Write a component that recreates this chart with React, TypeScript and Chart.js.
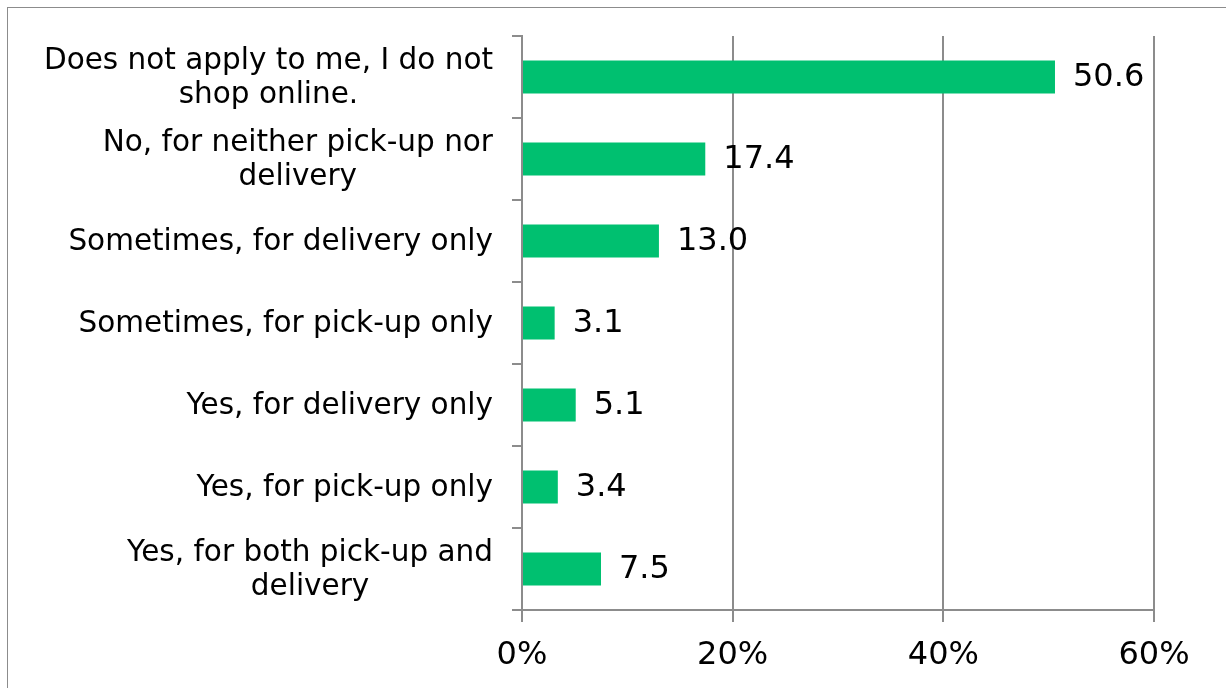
import React, { useEffect, useRef } from "react";
import { Chart, registerables } from "chart.js";

Chart.register(...registerables);

const categories: (string | string[])[] = [
  ["Does not apply to me, I do not", "shop online."],
  ["No, for neither pick-up nor", "delivery"],
  "Sometimes, for delivery only",
  "Sometimes, for pick-up only",
  "Yes, for delivery only",
  "Yes, for pick-up only",
  ["Yes, for both pick-up and", "delivery"],
];
const values = [50.6, 17.4, 13.0, 3.1, 5.1, 3.4, 7.5];
const xTicks = [0, 20, 40, 60];

const FONT = "'DejaVu Sans', Verdana, sans-serif";
const GRID = "#8c8c8c";
const GREEN = "#00c070";

const labelPlugin = {
  id: "customLabels",
  afterDraw(chart: any) {
    const { ctx, chartArea } = chart;
    const yScale = chart.scales.y;
    const xScale = chart.scales.x;
    ctx.save();
    ctx.fillStyle = "#000";
    // category labels
    ctx.font = `29.5px ${FONT}`;
    ctx.textBaseline = "middle";
    ctx.textAlign = "center";
    const lineH = 34;
    categories.forEach((lab, i) => {
      const lines = Array.isArray(lab) ? lab : [lab];
      const w = Math.max(...lines.map((l) => ctx.measureText(l).width));
      const right = chartArea.left - 29;
      const cx = right - w / 2;
      const cy = yScale.getPixelForValue(i) + 1;
      const start = cy - ((lines.length - 1) * lineH) / 2;
      lines.forEach((l, j) => ctx.fillText(l, cx, start + j * lineH));
    });
    // data labels
    ctx.font = `32px ${FONT}`;
    ctx.textAlign = "left";
    values.forEach((v, i) => {
      const x = xScale.getPixelForValue(v) + 18;
      const y = yScale.getPixelForValue(i);
      ctx.fillText(v.toFixed(1), x, y + 1);
    });
    ctx.restore();
  },
};

export default function App() {
  const ref = useRef<HTMLCanvasElement>(null);
  useEffect(() => {
    if (!ref.current) return;
    const chart = new Chart(ref.current, {
      type: "bar",
      data: {
        labels: categories.map((c) => (Array.isArray(c) ? c.join(" ") : c)),
        datasets: [
          {
            data: values,
            backgroundColor: GREEN,
            borderWidth: 0,
            categoryPercentage: 1,
            barPercentage: 0.4,
          },
        ],
      },
      options: {
        indexAxis: "y",
        animation: false,
        responsive: false,
        maintainAspectRatio: false,
        layout: { padding: { top: 28, right: 72, left: 0, bottom: 0 } },
        plugins: { legend: { display: false }, tooltip: { enabled: false } },
        scales: {
          x: {
            type: "linear",
            min: 0,
            max: 60,
            afterBuildTicks: (scale: any) => {
              scale.ticks = xTicks.map((v) => ({ value: v }));
            },
            afterFit: (scale: any) => {
              scale.height = 680 - 602;
            },
            grid: {
              color: GRID,
              lineWidth: 2,
              tickLength: 12,
              drawTicks: true,
            },
            border: { display: true, color: GRID, width: 2 },
            ticks: {
              font: { family: FONT, size: 32 },
              color: "#000",
              padding: 14,
              maxRotation: 0,
              callback: (v: any) => `${v}%`,
            },
          },
          y: {
            type: "category",
            afterFit: (scale: any) => {
              scale.width = 514;
            },
            grid: {
              offset: true,
              drawOnChartArea: false,
              drawTicks: true,
              tickLength: 10,
              color: GRID,
              lineWidth: 2,
            },
            border: { display: true, color: GRID, width: 2 },
            ticks: { display: false },
          },
        },
      },
      plugins: [labelPlugin],
    });
    return () => chart.destroy();
  }, []);

  return (
    <div
      style={{
        position: "fixed",
        left: 7,
        top: 7,
        right: 0,
        bottom: 0,
        borderLeft: "1px solid #8c8c8c",
        borderTop: "1px solid #8c8c8c",
        background: "#fff",
      }}
    >
      <canvas
        ref={ref}
        width={1218}
        height={680}
        style={{ position: "absolute", left: 0, top: 0, width: 1218, height: 680 }}
      />
    </div>
  );
}
